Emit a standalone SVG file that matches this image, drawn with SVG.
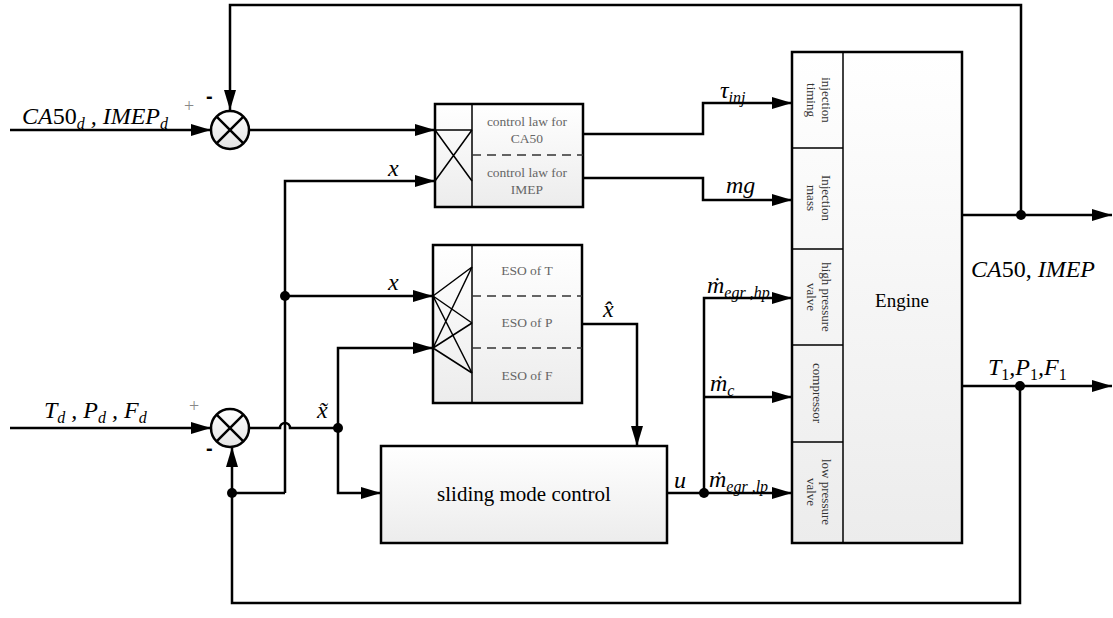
<svg xmlns="http://www.w3.org/2000/svg" width="1113" height="618" viewBox="0 0 1113 618">
<style>
.ln{fill:none;stroke:#000;stroke-width:2.5}
.thin{fill:none;stroke:#000;stroke-width:1.5}
.dash{fill:none;stroke:#333;stroke-width:1.5;stroke-dasharray:9 6}
.box{fill:url(#g);stroke:#000;stroke-width:2.5}
.serif{font-family:"Liberation Serif","Times New Roman","DejaVu Serif",serif}
.m{font-family:"Liberation Serif","Times New Roman","DejaVu Serif",serif;font-style:italic;font-size:24px;fill:#000}
.r{font-style:normal}
.sub{font-size:16px}
.bt{font-family:"Liberation Serif","Times New Roman","DejaVu Serif",serif;font-size:13.5px;fill:#666;text-anchor:middle}
.vt{font-family:"Liberation Serif","Times New Roman","DejaVu Serif",serif;font-size:13px;fill:#333;text-anchor:middle}
.sgn{font-family:"Liberation Sans",Arial,sans-serif;font-size:20px;font-weight:bold;fill:#000}
.pl{font-family:"Liberation Serif","Times New Roman","DejaVu Serif",serif;font-size:18px;fill:#888}
</style>
<defs>
<linearGradient id="g" x1="0" y1="0" x2="0" y2="1"><stop offset="0" stop-color="#ffffff"/><stop offset="1" stop-color="#ececec"/></linearGradient>
<linearGradient id="gc" x1="0" y1="0" x2="0" y2="1"><stop offset="0" stop-color="#ffffff"/><stop offset="1" stop-color="#e4e4e4"/></linearGradient>
<marker id="a" viewBox="0 0 20 12" refX="20" refY="6" markerWidth="20" markerHeight="12" markerUnits="userSpaceOnUse" orient="auto"><path d="M0,0 L20,6 L0,12 Z" fill="#000"/></marker>
</defs>

<g id="connectors">
<path class="ln" d="M1021,215 V5 H230 V110" marker-end="url(#a)"/>
<path class="ln" d="M10,130 H211" marker-end="url(#a)"/>
<path class="ln" d="M249,130 H435" marker-end="url(#a)"/>
<path class="ln" d="M285,493 V181 H435" marker-end="url(#a)"/>
<path class="ln" d="M285,296 H433" marker-end="url(#a)"/>
<path class="ln" d="M10,428 H211" marker-end="url(#a)"/>
<path class="ln" d="M249,428 H280 A5,5 0 0 1 290,428 H338"/>
<path class="ln" d="M338,428 V348 H433" marker-end="url(#a)"/>
<path class="ln" d="M338,428 V493 H381" marker-end="url(#a)"/>
<path class="ln" d="M1020,386 V603 H232 V447" marker-end="url(#a)"/>
<path class="ln" d="M232,493 H285"/>
<path class="ln" d="M582,324 H637 V446" marker-end="url(#a)"/>
<path class="ln" d="M583,134 H703 V103 H792" marker-end="url(#a)"/>
<path class="ln" d="M583,178 H703 V200 H792" marker-end="url(#a)"/>
<path class="ln" d="M667,493 H792" marker-end="url(#a)"/>
<path class="ln" d="M704,493 V298 H792" marker-end="url(#a)"/>
<path class="ln" d="M704,397 H792" marker-end="url(#a)"/>
<path class="ln" d="M962,215 H1112" marker-end="url(#a)"/>
<path class="ln" d="M962,386 H1112" marker-end="url(#a)"/>
<circle cx="1021" cy="215" r="5"/>
<circle cx="1020" cy="386" r="5"/>
<circle cx="285" cy="296" r="5"/>
<circle cx="338" cy="428" r="5"/>
<circle cx="232" cy="493" r="5"/>
<circle cx="704" cy="493" r="5"/>
</g>

<g id="sum1">
<circle cx="230" cy="130" r="19" fill="url(#gc)" stroke="#000" stroke-width="2.5"/>
<path class="ln" d="M216.6,116.6 L243.4,143.4 M243.4,116.6 L216.6,143.4"/>
<text class="sgn" x="206" y="103">-</text>
<text class="pl" x="184" y="112">+</text>
</g>

<g id="sum2">
<circle cx="230" cy="428" r="19" fill="url(#gc)" stroke="#000" stroke-width="2.5"/>
<path class="ln" d="M216.6,414.6 L243.4,441.4 M243.4,414.6 L216.6,441.4"/>
<text class="sgn" x="206" y="455">-</text>
<text class="pl" x="189" y="412">+</text>
</g>

<g id="controllaw">
<rect class="box" x="435" y="104" width="148" height="103"/>
<line class="thin" x1="472" y1="104" x2="472" y2="207"/>
<path class="thin" d="M435,130 H472 M435,130 L472,181 M472,130 L435,181"/>
<line class="dash" x1="472" y1="155" x2="583" y2="155"/>
<text class="bt" x="527" y="126">control law for</text>
<text class="bt" x="527" y="143">CA50</text>
<text class="bt" x="527" y="177">control law for</text>
<text class="bt" x="527" y="194">IMEP</text>
</g>

<g id="eso">
<rect class="box" x="433" y="245" width="149" height="158"/>
<line class="thin" x1="472" y1="245" x2="472" y2="403"/>
<path class="thin" d="M433,296 L472,267 M433,296 L472,323 M433,296 L472,373 M433,348 L472,267 M433,348 L472,323 M433,348 L472,373"/>
<line class="dash" x1="472" y1="296" x2="582" y2="296"/>
<line class="dash" x1="472" y1="348" x2="582" y2="348"/>
<text class="bt" x="527" y="275">ESO of T</text>
<text class="bt" x="527" y="327">ESO of P</text>
<text class="bt" x="527" y="380">ESO of F</text>
</g>

<g id="smc">
<rect class="box" x="381" y="446" width="286" height="97"/>
<text class="serif" x="524" y="501" font-size="21" text-anchor="middle">sliding mode control</text>
</g>

<g id="engine">
<rect class="box" x="792" y="52" width="170" height="491"/>
<line class="thin" x1="843" y1="52" x2="843" y2="543"/>
<path class="thin" d="M792,148 H843 M792,249 H843 M792,345 H843 M792,442 H843"/>
<text class="serif" x="902" y="307" font-size="19" text-anchor="middle">Engine</text>
<g transform="translate(820,100) rotate(90)"><text class="vt" x="0" y="-2">injection</text><text class="vt" x="0" y="13">timing</text></g>
<g transform="translate(820,198) rotate(90)"><text class="vt" x="0" y="-2">Injection</text><text class="vt" x="0" y="13">mass</text></g>
<g transform="translate(820,297) rotate(90)"><text class="vt" x="0" y="-2">high pressure</text><text class="vt" x="0" y="13">valve</text></g>
<g transform="translate(817,393) rotate(90)"><text class="vt" x="0" y="4">compressor</text></g>
<g transform="translate(820,492) rotate(90)"><text class="vt" x="0" y="-2">low pressure</text><text class="vt" x="0" y="13">valve</text></g>
</g>

<g id="labels">
<text class="m" x="22" y="124">CA<tspan class="r">50</tspan><tspan class="sub" dy="5">d</tspan><tspan dy="-5"> , IMEP</tspan><tspan class="sub" dy="5">d</tspan></text>
<text class="m" x="44" y="418">T<tspan class="sub" dy="5">d</tspan><tspan dy="-5"> , P</tspan><tspan class="sub" dy="5">d</tspan><tspan dy="-5"> , F</tspan><tspan class="sub" dy="5">d</tspan></text>
<text class="m" x="388" y="176">x</text>
<text class="m" x="388" y="290">x</text>
<text class="m" x="317" y="418">x̃</text>
<text class="m" x="603" y="317">x̂</text>
<text class="m" x="674" y="488">u</text>
<text class="m" x="720" y="98">τ<tspan class="sub" dy="5">inj</tspan></text>
<text class="m" x="726" y="193">mg</text>
<text class="m" x="707" y="293">ṁ<tspan class="sub" dy="5">egr ,hp</tspan></text>
<text class="m" x="710" y="391">ṁ<tspan class="sub" dy="5">c</tspan></text>
<text class="m" x="709" y="487">ṁ<tspan class="sub" dy="5">egr ,lp</tspan></text>
<text class="m" x="971" y="277">CA<tspan class="r">50</tspan><tspan class="r">,</tspan> IMEP</text>
<text class="m" x="988" y="375">T<tspan class="sub r" dy="5">1</tspan><tspan dy="-5">,P</tspan><tspan class="sub r" dy="5">1</tspan><tspan dy="-5">,F</tspan><tspan class="sub r" dy="5">1</tspan></text>
</g>
</svg>
